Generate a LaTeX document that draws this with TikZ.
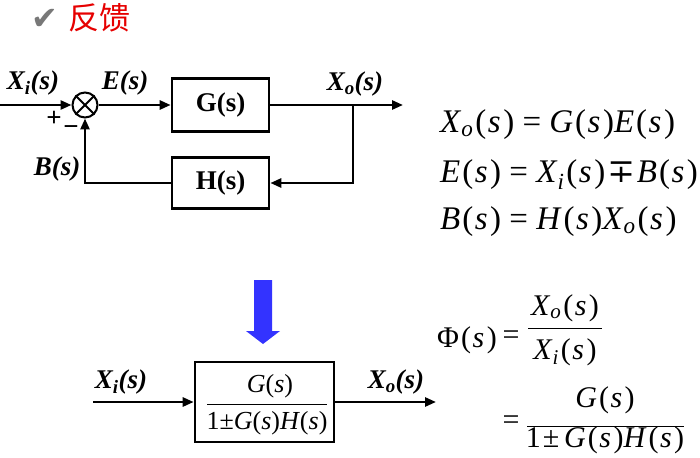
\documentclass[tikz,border=0pt]{standalone}
\usepackage{fontspec}
\setmainfont{Liberation Serif}
\newfontfamily\cjk{Noto Sans CJK SC}
\newfontfamily\dejavu{DejaVu Sans}
\newfontfamily\dejavuserif{DejaVu Serif}
\usetikzlibrary{arrows.meta}
\definecolor{titlered}{RGB}{230,0,0}
\definecolor{arrowblue}{RGB}{51,51,255}
\definecolor{checkgray}{RGB}{120,120,120}
\newcommand\vi[1]{\textit{#1}}
\newcommand\lsub[1]{\textsubscript{#1}}
\newcommand\pp[1]{\kern2pt(\kern1.5pt\vi{#1}\kern2.5pt)}
\begin{document}
\begin{tikzpicture}[x=1pt,y=-1pt,
  arr/.style={line width=2.6pt, -{Triangle[length=11pt,width=9pt]}},
  blk/.style={draw, line width=2.6pt, minimum width=97pt, inner sep=0pt,
    font=\fontsize{27}{30}\selectfont\bfseries},
  lbl/.style={font=\fontsize{27}{30}\selectfont\bfseries\itshape, inner sep=0pt},
  sgn/.style={font=\fontsize{27}{30}\selectfont\bfseries, inner sep=0pt},
  eq/.style={font=\fontsize{33}{36}\selectfont, anchor=west, inner sep=0pt},
  eqs/.style={font=\fontsize{30}{34}\selectfont, inner sep=0pt},
  fbar/.style={line width=1pt},
  tf/.style={font=\fontsize{26}{30}\selectfont, inner sep=0pt}
]
\useasboundingbox (0,0) rectangle (700,457);
% title
\node[font=\dejavu\fontsize{32}{34}\selectfont, text=checkgray, inner sep=0pt] (chk) at (45,19) {✔};
\node[font=\cjk\fontsize{31}{34}\selectfont, text=titlered, inner sep=0pt] (ttl) at (99,18) {反馈};
% top diagram
\node[draw, circle, line width=2pt, minimum size=25pt, inner sep=0pt] (sum) at (85,105) {};
\draw[line width=2pt] (sum.45) -- (sum.225) (sum.135) -- (sum.315);
\coordinate (in) at (0,105);
\node[blk, minimum height=53pt] (G) at (220.5,105) {G(s)};
\node[blk, minimum height=51pt] (H) at (220.5,183) {H(s)};
\coordinate (out) at (403,105);
\coordinate (br) at (353,105);
\coordinate (brd) at (353,183);
\coordinate (fb) at (85,183);
\draw[arr] (in) -- (sum.west);
\draw[arr] (sum.east) -- (G.west);
\draw[arr] (G.east) -- (out);
\draw[arr] (br) -- (brd) -- (H.east);
\draw[arr] (H.west) -- (fb) -- (sum.south);
\node[lbl] (lxi) at (33,83) {X\lsub{i}(s)};
\node[lbl] (le) at (125,83) {E(s)};
\node[lbl] (lxo) at (355,84) {X\lsub{o}(s)};
\node[lbl] (lb) at (57,169) {B(s)};
\node[sgn] (plus) at (54,119) {+};
\node[sgn] (minus) at (71,131) {−};
% right equations
\node[eq] (e1) at (440,125) {\vi{X}\lsub{\vi{o}}\pp{s} = \vi{G}\pp{s}\vi{E}\pp{s}};
\node[eq] (e2) at (440,175) {\vi{E}\pp{s} = \vi{X}\lsub{\vi{i}}\pp{s}\kern2pt{\dejavuserif ∓}\kern2pt\vi{B}\pp{s}};
\node[eq] (e3) at (440,222) {\vi{B}\pp{s} = \vi{H}\pp{s}\vi{X}\lsub{\vi{o}}\pp{s}};
% transfer function
\node[eqs, anchor=west] (phi) at (437,340) {Φ\pp{s}};
\node[eqs] (eqa) at (511,338) {=};
\node[eqs] (num1) at (565,308) {\vi{X}\lsub{\vi{o}}\pp{s}};
\node[eqs] (den1) at (565,352) {\vi{X}\lsub{\vi{i}}\pp{s}};
\coordinate (f1a) at (528,328);
\coordinate (f1b) at (602,328);
\draw[fbar] (f1a) -- (f1b);
\node[eqs] (eqb) at (511,423) {=};
\node[eqs] (num2) at (605,400) {\vi{G}\pp{s}};
\node[eqs] (den2) at (605,440) {1\kern2pt±\kern5pt\vi{G}\pp{s}\vi{H}\pp{s}};
\coordinate (f2a) at (527,426);
\coordinate (f2b) at (684,426);
\draw[fbar] (f2a) -- (f2b);
% blue arrow
\fill[arrowblue] (254,280) -- (272,280) -- (272,331) -- (280,331) -- (263,344) -- (246,331) -- (254,331) -- cycle;
% bottom diagram
\node[blk, minimum width=139pt, minimum height=80pt] (T) at (264.5,402) {};
\node[tf] (tnum) at (270,386) {\vi{G}(\vi{s})};
\node[tf] (tden) at (267,423) {1±\vi{G}(\vi{s})\vi{H}(\vi{s})};
\coordinate (tba) at (207,404);
\coordinate (tbb) at (327,404);
\draw[fbar] (tba) -- (tbb);
\coordinate (in2) at (93,402);
\coordinate (out2) at (436,402);
\draw[arr] (in2) -- (T.west);
\draw[arr] (T.east) -- (out2);
\node[lbl] (lxi2) at (121,382) {X\lsub{i}(s)};
\node[lbl] (lxo2) at (396,382) {X\lsub{o}(s)};
\end{tikzpicture}
\end{document}
